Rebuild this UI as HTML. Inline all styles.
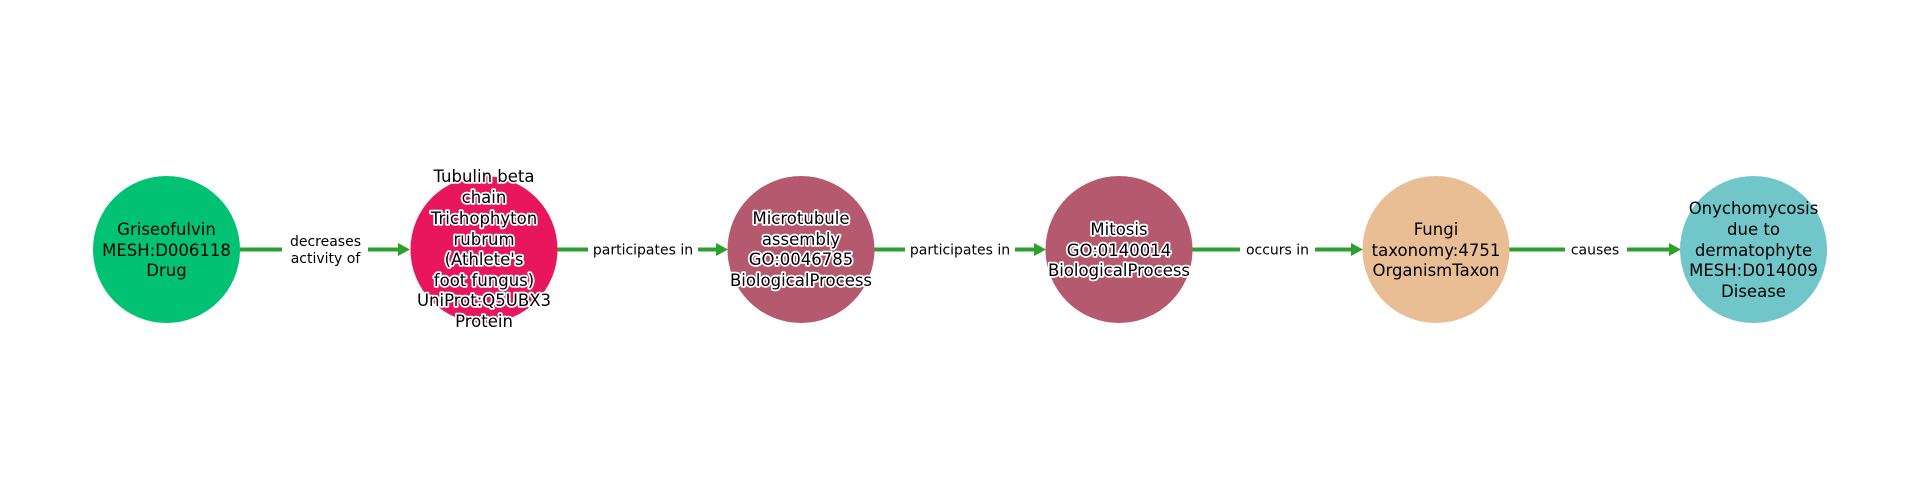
<!DOCTYPE html>
<html><head><meta charset="utf-8"><style>html,body{margin:0;padding:0;background:#fff;}svg{display:block}</style></head>
<body>
<svg width="1920" height="500" viewBox="0 0 1920 500" xmlns="http://www.w3.org/2000/svg" font-family="DejaVu Sans, Liberation Sans, sans-serif">
<g stroke="#2ca02c" stroke-width="4" fill="#2ca02c">
<line x1="240" y1="249.5" x2="400" y2="249.5"/><polygon points="410,249.5 398,243 398,256" stroke="none"/>
<line x1="557" y1="249.5" x2="717" y2="249.5"/><polygon points="728,249.5 716,243 716,256" stroke="none"/>
<line x1="874" y1="249.5" x2="1035" y2="249.5"/><polygon points="1046,249.5 1034,243 1034,256" stroke="none"/>
<line x1="1192" y1="249.5" x2="1352" y2="249.5"/><polygon points="1363,249.5 1351,243 1351,256" stroke="none"/>
<line x1="1509" y1="249.5" x2="1670" y2="249.5"/><polygon points="1681,249.5 1669,243 1669,256" stroke="none"/>
</g>
<g font-size="14" text-anchor="middle" fill="#000">
<rect x="282" y="230" width="86" height="38" fill="#fff"/>
<text x="325.5" y="246">decreases</text><text x="325.5" y="263">activity of</text>
<rect x="588" y="240" width="110" height="20" fill="#fff"/><text x="643" y="254.5">participates in</text>
<rect x="905" y="240" width="110" height="20" fill="#fff"/><text x="960" y="254.5">participates in</text>
<rect x="1240" y="240" width="75" height="20" fill="#fff"/><text x="1277.5" y="254.5">occurs in</text>
<rect x="1565" y="240" width="62" height="20" fill="#fff"/><text x="1595" y="254.5">causes</text>
</g>
<circle cx="166.5" cy="249.5" r="73.5" fill="#00c272"/>
<circle cx="484" cy="249.5" r="73.5" fill="#e8175d"/>
<circle cx="801" cy="249.5" r="73.5" fill="#b5596e"/>
<circle cx="1119" cy="249.5" r="73.5" fill="#b5596e"/>
<circle cx="1436" cy="249.5" r="73.5" fill="#e9be95"/>
<circle cx="1753.5" cy="249.5" r="73.5" fill="#71c6ca"/>
<g font-size="16.5" text-anchor="middle" fill="#000">
<text x="166.5" y="235">Griseofulvin</text><text x="166.5" y="256">MESH:D006118</text><text x="166.5" y="276">Drug</text>
<g stroke="#fff" stroke-width="3.5" paint-order="stroke" stroke-linejoin="round">
<text x="484" y="182">Tubulin beta</text><text x="484" y="203">chain</text><text x="484" y="224">Trichophyton</text><text x="484" y="245">rubrum</text><text x="484" y="265">(Athlete's</text><text x="484" y="286">foot fungus)</text><text x="484" y="306">UniProt:Q5UBX3</text><text x="484" y="327">Protein</text>
<text x="801" y="224">Microtubule</text><text x="801" y="245">assembly</text><text x="801" y="265">GO:0046785</text><text x="801" y="286">BiologicalProcess</text>
<text x="1119" y="235">Mitosis</text><text x="1119" y="256">GO:0140014</text><text x="1119" y="276">BiologicalProcess</text>
</g>
<text x="1436" y="235">Fungi</text><text x="1436" y="256">taxonomy:4751</text><text x="1436" y="276">OrganismTaxon</text>
<text x="1753.5" y="214">Onychomycosis</text><text x="1753.5" y="235">due to</text><text x="1753.5" y="256">dermatophyte</text><text x="1753.5" y="276">MESH:D014009</text><text x="1753.5" y="297">Disease</text>
</g>
</svg>
</body></html>
